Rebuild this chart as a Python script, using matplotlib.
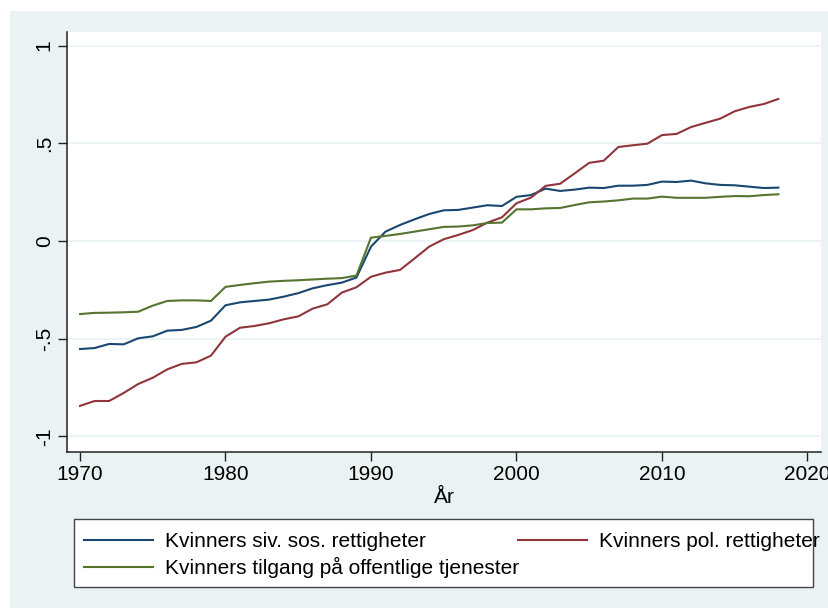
import matplotlib
matplotlib.use("Agg")
import matplotlib.pyplot as plt
from matplotlib.patches import Rectangle
import numpy as np

years = list(range(1970, 2019))

siv_sos = [-0.553, -0.548, -0.527, -0.529, -0.498, -0.488, -0.459, -0.455, -0.440, -0.408,
           -0.329, -0.314, -0.307, -0.300, -0.285, -0.267, -0.242, -0.226, -0.213, -0.187,
           -0.029, 0.048, 0.082, 0.111, 0.138, 0.157, 0.159, 0.171, 0.183, 0.179,
           0.226, 0.235, 0.268, 0.256, 0.263, 0.273, 0.271, 0.283, 0.283, 0.287,
           0.304, 0.302, 0.309, 0.295, 0.287, 0.285, 0.278, 0.271, 0.273]

pol = [-0.844, -0.819, -0.819, -0.778, -0.732, -0.700, -0.657, -0.629, -0.621, -0.587,
       -0.490, -0.444, -0.435, -0.421, -0.401, -0.386, -0.346, -0.324, -0.264, -0.237,
       -0.183, -0.162, -0.148, -0.089, -0.029, 0.009, 0.031, 0.056, 0.094, 0.121,
       0.193, 0.222, 0.282, 0.293, 0.346, 0.400, 0.411, 0.481, 0.490, 0.498,
       0.542, 0.548, 0.583, 0.605, 0.626, 0.664, 0.686, 0.701, 0.727]

tilgang = [-0.374, -0.368, -0.367, -0.365, -0.362, -0.331, -0.307, -0.304, -0.304, -0.307,
           -0.235, -0.225, -0.216, -0.208, -0.204, -0.201, -0.197, -0.193, -0.190, -0.177,
           0.017, 0.026, 0.036, 0.048, 0.060, 0.072, 0.074, 0.080, 0.092, 0.094,
           0.162, 0.162, 0.167, 0.169, 0.184, 0.198, 0.202, 0.208, 0.217, 0.217,
           0.227, 0.221, 0.221, 0.221, 0.226, 0.230, 0.229, 0.235, 0.239]

labels = ["Kvinners siv. sos. rettigheter",
          "Kvinners pol. rettigheter",
          "Kvinners tilgang på offentlige tjenester"]

xticks = [1970, 1980, 1990, 2000, 2010, 2020]
yticks = [-1, -0.5, 0, 0.5, 1]
yticklabels = ["-1", "-.5", "0", ".5", "1"]

plt.rcParams['font.family'] = ['Liberation Sans', 'DejaVu Sans']

bg = "#EAF2F3"
W, H = 829, 608
FS = 15
fig = plt.figure(figsize=(W / 100, H / 100), dpi=100, facecolor="white")
# graph region background (white outer margin at top/left)
fig.patches.append(Rectangle((10 / W, 0), 1 - 10 / W, 1 - 11 / H,
                             transform=fig.transFigure, facecolor=bg,
                             edgecolor="none", zorder=-10))

ax = fig.add_axes([67 / W, 1 - 452 / H, (821 - 67) / W, (452 - 32) / H])
ax.set_zorder(1)
ax.set_facecolor("white")

l1, = ax.plot(years, siv_sos, color="#1a476f", lw=1.5)
l2, = ax.plot(years, pol, color="#90353b", lw=1.5)
l3, = ax.plot(years, tilgang, color="#55752f", lw=1.5)

ax.set_xlim(1969.107, 2020.93)
ax.set_ylim(-1.08, 1.0696)
ax.set_xticks(xticks)
ax.set_yticks(yticks)
ax.set_yticklabels(yticklabels, rotation=90, va="center")
ax.tick_params(axis="both", labelsize=FS, length=6.5, width=1, color="#222222", pad=3)
ax.grid(axis="y", color=bg, lw=1.2)
ax.set_axisbelow(True)
for s in ["top", "right"]:
    ax.spines[s].set_visible(False)
for s in ["left", "bottom"]:
    ax.spines[s].set_linewidth(1.1)
    ax.spines[s].set_color("#222222")
ax.set_xlabel("År", fontsize=FS, labelpad=3)

# legend frame (Stata style: text may overflow the box)
fig.patches.append(Rectangle((74 / W, 1 - 587 / H), (813 - 74) / W, (587 - 519) / H,
                             transform=fig.transFigure, facecolor="white",
                             edgecolor="#444444", lw=1.0, zorder=2))
leg = fig.legend([l1, l3, l2], [labels[0], labels[2], labels[1]], ncol=2,
                 loc="upper left", bbox_to_anchor=(73 / W, 1 - 521 / H),
                 borderaxespad=0, fontsize=FS, frameon=False,
                 handlelength=3.3, handletextpad=0.58, borderpad=0.55,
                 labelspacing=0.27, columnspacing=-0.05)
leg.set_zorder(3)

fig.savefig("out.png", dpi=100, facecolor="white")
